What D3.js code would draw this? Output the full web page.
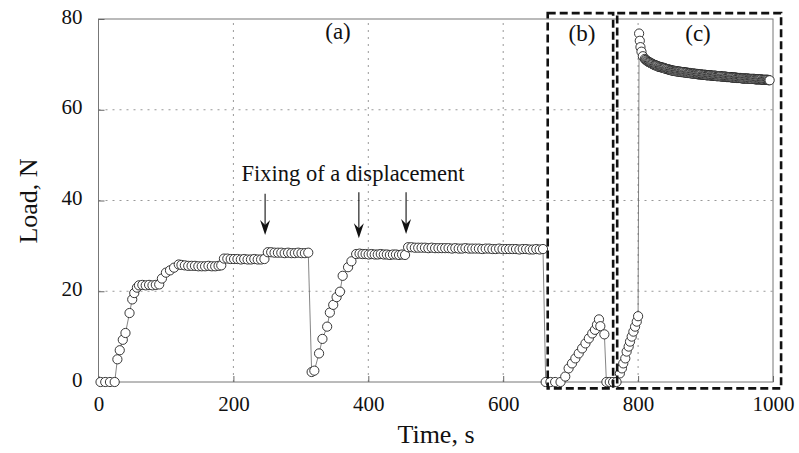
<!DOCTYPE html>
<html>
<head>
<meta charset="utf-8">
<script src="https://cdn.jsdelivr.net/npm/d3@7"></script>
<style>
  body { margin: 0; background: #fff; }
  text { font-family: "Liberation Serif", "Times New Roman", serif; fill: #111; }
</style>
</head>
<body>
<div id="vis"></div>
<script>
// axis ticks
let xTicks = [0, 200, 400, 600, 800, 1000];
let yTicks = [0, 20, 40, 60, 80];

// first loading run (a), time in s and load in N
let runA_t = [3, 10, 17, 24, 28, 31.5, 36, 40, 46, 50, 53, 57,
  60, 65, 70, 75, 80, 85, 90, 94, 100, 106, 112, 119,
  123, 128, 133, 138, 143, 148, 153, 158, 163, 168, 173, 178, 182,
  186, 191, 196, 201, 206, 211, 216, 221, 226, 231, 236, 241, 246,
  251, 256, 261, 266, 271, 276, 281, 286, 291, 296, 301, 306, 311];
let runA_load = [0, 0, 0, 0, 5.0, 7.0, 9.3, 10.8, 15.2, 18.2, 19.6, 20.8,
  21.3, 21.4, 21.3, 21.4, 21.3, 21.4, 21.5, 22.8, 24.1, 24.6, 25.2, 25.9,
  25.8, 25.7, 25.6, 25.6, 25.6, 25.5, 25.5, 25.5, 25.6, 25.5, 25.5, 25.6, 25.7,
  27.2, 27.2, 27.1, 27.1, 27.1, 27.0, 27.1, 27.0, 27.0, 27.1, 27.0, 27.0, 27.1,
  28.6, 28.6, 28.5, 28.5, 28.5, 28.4, 28.5, 28.4, 28.4, 28.5, 28.4, 28.4, 28.5];

// second loading run (a)
let runB_t = [316, 320, 327, 332, 339, 343, 348, 353, 358, 362, 370, 375, 382,
  387, 391.5, 396, 400.5, 405, 409.5, 414, 418.5, 423, 427.5, 432, 436.5, 441, 445.5, 450, 454.5,
  459, 464, 469, 474, 479, 484, 489, 494, 499, 504, 509, 514, 519, 524, 529, 534, 539, 544, 549, 554,
  559, 564, 569, 574, 579, 584, 589, 594, 599, 604, 609, 614, 619, 624, 629, 634, 639, 644, 649, 654, 659];
let runB_load = [2.2, 2.5, 6.3, 9.5, 12.2, 15.3, 17.0, 18.7, 19.9, 23.4, 25.3, 26.6, 28.2,
  28.3, 28.2, 28.2, 28.1, 28.2, 28.1, 28.1, 28.2, 28.1, 28.1, 28.0, 28.1, 28.1, 28.0, 28.1, 28.0,
  29.7, 29.7, 29.6, 29.6, 29.6, 29.6, 29.5, 29.6, 29.5, 29.5, 29.5, 29.5, 29.5, 29.4, 29.5, 29.4,
  29.4, 29.5, 29.4, 29.4, 29.4, 29.4, 29.3, 29.4, 29.4, 29.3, 29.3, 29.4, 29.3, 29.3, 29.3, 29.3,
  29.3, 29.2, 29.3, 29.3, 29.2, 29.2, 29.3, 29.2, 29.3];

// section (b)
let runC_t = [663, 670, 677, 685, 692, 697, 702, 707, 712, 717, 722, 727, 732, 736, 739, 742,
  744, 750, 753, 758, 763, 768];
let runC_load = [0, 0, 0, 0, 1.2, 3.0, 4.1, 5.2, 6.3, 7.4, 8.5, 9.6, 10.7, 11.5, 12.6, 13.8,
  12.3, 10.5, 0, 0, 0, 0];

// section (c): ramp then relaxation
let runD_t = [773, 776, 778, 781, 783, 786, 788, 790.5, 793, 795.5, 798, 800,
  801.5, 802.5, 803.5, 805, 807,
  810, 811.25, 812.5, 813.75, 815, 816.25, 817.5, 818.75, 820, 821.25, 822.5, 823.75, 825, 826.25, 827.5, 828.75,
  830, 831.25, 832.5, 833.75, 835, 836.25, 837.5, 838.75, 840, 841.25, 842.5, 843.75, 845, 846.25, 847.5, 848.75, 850,
  851.25, 852.5, 853.75, 855, 856.25, 857.5, 858.75, 860, 861.25, 862.5, 863.75, 865, 866.25, 867.5, 868.75, 870,
  871.25, 872.5, 873.75, 875, 876.25, 877.5, 878.75, 880, 881.25, 882.5, 883.75, 885, 886.25, 887.5, 888.75, 890,
  891.25, 892.5, 893.75, 895, 896.25, 897.5, 898.75, 900,
  901.25, 902.5, 903.75, 905, 906.25, 907.5, 908.75, 910, 911.25, 912.5, 913.75, 915, 916.25, 917.5, 918.75, 920,
  921.25, 922.5, 923.75, 925, 926.25, 927.5, 928.75, 930, 931.25, 932.5, 933.75, 935, 936.25, 937.5, 938.75, 940,
  941.25, 942.5, 943.75, 945, 946.25, 947.5, 948.75, 950,
  951.25, 952.5, 953.75, 955, 956.25, 957.5, 958.75, 960, 961.25, 962.5, 963.75, 965, 966.25, 967.5, 968.75, 970,
  971.25, 972.5, 973.75, 975, 976.25, 977.5, 978.75, 980, 981.25, 982.5, 983.75, 985, 986.25, 987.5, 988.75, 990,
  991.25, 992.5, 993.75, 995];
let runD_load = [1.9, 3.0, 4.1, 5.2, 6.7, 7.8, 8.9, 10.0, 11.1, 12.2, 13.3, 14.5,
  76.8, 75.2, 73.8, 72.8, 71.8,
  71.2, 71.0, 70.9, 70.7, 70.6, 70.5, 70.4, 70.3, 70.2, 70.1, 70.0, 69.9, 69.8, 69.8, 69.7, 69.6,
  69.5, 69.5, 69.4, 69.4, 69.3, 69.3, 69.2, 69.2, 69.1, 69.0, 69.0, 68.9, 68.9, 68.8, 68.8, 68.7, 68.7,
  68.6, 68.6, 68.6, 68.5, 68.5, 68.5, 68.4, 68.4, 68.4, 68.4, 68.3, 68.3, 68.3, 68.3, 68.2, 68.2,
  68.2, 68.2, 68.1, 68.1, 68.1, 68.1, 68.0, 68.0, 68.0, 68.0, 67.9, 67.9, 67.9, 67.9, 67.8, 67.8,
  67.8, 67.8, 67.8, 67.7, 67.7, 67.7, 67.7, 67.7,
  67.6, 67.6, 67.6, 67.6, 67.6, 67.6, 67.5, 67.5, 67.5, 67.5, 67.5, 67.5, 67.4, 67.4, 67.4, 67.4,
  67.4, 67.4, 67.3, 67.3, 67.3, 67.3, 67.3, 67.3, 67.2, 67.2, 67.2, 67.2, 67.2, 67.2, 67.1, 67.1,
  67.1, 67.1, 67.1, 67.1, 67.0, 67.0, 67.0, 67.0,
  67.0, 67.0, 66.9, 66.9, 66.9, 66.9, 66.9, 66.9, 66.9, 66.9, 66.8, 66.8, 66.8, 66.8, 66.8, 66.8,
  66.8, 66.8, 66.7, 66.7, 66.7, 66.7, 66.7, 66.7, 66.7, 66.7, 66.6, 66.6, 66.6, 66.6, 66.6, 66.6,
  66.6, 66.6, 66.5, 66.5];

// dashed boxes [t0, t1, load0, load1]
let boxB = [666, 763, -1.4, 81.3];
let boxC = [769, 1012, -1.4, 81.3];

// arrows "fixing of a displacement": time, top load, tip load
let arrowT = [247, 386, 456];
let arrowTop = [41.5, 41.8, 41.8];
let arrowTip = [32.4, 31.7, 32.6];

let W = 799, H = 453;
let margin = {top: 19, left: 98.5, right: 26, bottom: 71};

let svg = d3.select('#vis').append('svg')
  .attr('width', W).attr('height', H)
  .style('background-color', 'white');

let x = d3.scaleLinear().domain([0, 1000]).range([margin.left, W - margin.right]);
let y = d3.scaleLinear().domain([0, 80]).range([H - margin.bottom, margin.top]);

// grid
svg.append('g').selectAll('line').data(xTicks.slice(1, -1)).join('line')
  .attr('x1', d => x(d)).attr('x2', d => x(d))
  .attr('y1', y(0)).attr('y2', y(80))
  .attr('stroke', '#999').attr('stroke-width', 1).attr('stroke-dasharray', '2,5');
svg.append('g').selectAll('line').data(yTicks.slice(1, -1)).join('line')
  .attr('x1', x(0)).attr('x2', x(1000))
  .attr('y1', d => y(d)).attr('y2', d => y(d))
  .attr('stroke', '#999').attr('stroke-width', 1).attr('stroke-dasharray', '2,5');

// frame
svg.append('rect')
  .attr('x', x(0)).attr('y', y(80))
  .attr('width', x(1000) - x(0)).attr('height', y(0) - y(80))
  .attr('fill', 'none').attr('stroke', '#777').attr('stroke-width', 1);

// axes with inner ticks
let xAxis = svg.append('g').attr('transform', `translate(0,${y(0)})`)
  .call(d3.axisBottom(x).tickValues(xTicks).tickFormat(d3.format('d'))
    .tickSizeInner(-6).tickSizeOuter(0).tickPadding(14));
let yAxis = svg.append('g').attr('transform', `translate(${x(0)},0)`)
  .call(d3.axisLeft(y).tickValues(yTicks).tickSizeInner(-6).tickSizeOuter(0).tickPadding(16));
[xAxis, yAxis].forEach(a => {
  a.select('.domain').remove();
  a.selectAll('.tick line').attr('stroke', '#666');
  a.selectAll('.tick text').style('font-family', '"Liberation Serif", serif')
    .style('font-size', '21px').attr('fill', '#111');
});
yAxis.selectAll('.tick text').attr('dy', '0.2em');

// data line and markers
let t = runA_t.concat(runB_t, runC_t, runD_t);
let L = runA_load.concat(runB_load, runC_load, runD_load);
let pts = t.map((d, i) => [d, L[i]]);

svg.append('path').datum(pts)
  .attr('d', d3.line().x(d => x(d[0])).y(d => y(d[1])))
  .attr('fill', 'none').attr('stroke', '#666').attr('stroke-width', 0.8);

svg.append('g').selectAll('circle').data(pts).join('circle')
  .attr('cx', d => x(d[0])).attr('cy', d => y(d[1])).attr('r', 4.6)
  .attr('fill', 'white').attr('stroke', '#222').attr('stroke-width', 0.9);

// dashed boxes
[boxB, boxC].forEach(b => {
  svg.append('rect')
    .attr('x', x(b[0])).attr('y', y(b[3]))
    .attr('width', x(b[1]) - x(b[0])).attr('height', y(b[2]) - y(b[3]))
    .attr('fill', 'none').attr('stroke', '#111').attr('stroke-width', 2.6)
    .attr('stroke-dasharray', '8,4');
});

// arrows
arrowT.forEach((d, i) => {
  let ax = x(d), y0 = y(arrowTop[i]), y1 = y(arrowTip[i]);
  svg.append('line').attr('x1', ax).attr('x2', ax).attr('y1', y0).attr('y2', y1 - 6)
    .attr('stroke', '#111').attr('stroke-width', 1.1);
  svg.append('path')
    .attr('d', `M${ax},${y1} L${ax - 5},${y1 - 15} L${ax},${y1 - 10} L${ax + 5},${y1 - 15} Z`)
    .attr('fill', '#111');
});

// labels
svg.append('text').attr('x', 241.5).attr('y', 181).style('font-size', '22.5px')
  .text('Fixing of a displacement');
svg.append('text').attr('x', 338).attr('y', 39).attr('text-anchor', 'middle').style('font-size', '23px').text('(a)');
svg.append('text').attr('x', 582).attr('y', 41).attr('text-anchor', 'middle').style('font-size', '23px').text('(b)');
svg.append('text').attr('x', 698).attr('y', 41).attr('text-anchor', 'middle').style('font-size', '23px').text('(c)');

svg.append('text').attr('x', 436).attr('y', 443).attr('text-anchor', 'middle')
  .style('font-size', '26px').text('Time, s');
svg.append('text').attr('transform', 'translate(37,201) rotate(-90)').attr('text-anchor', 'middle')
  .style('font-size', '26px').text('Load, N');
</script>
</body>
</html>
